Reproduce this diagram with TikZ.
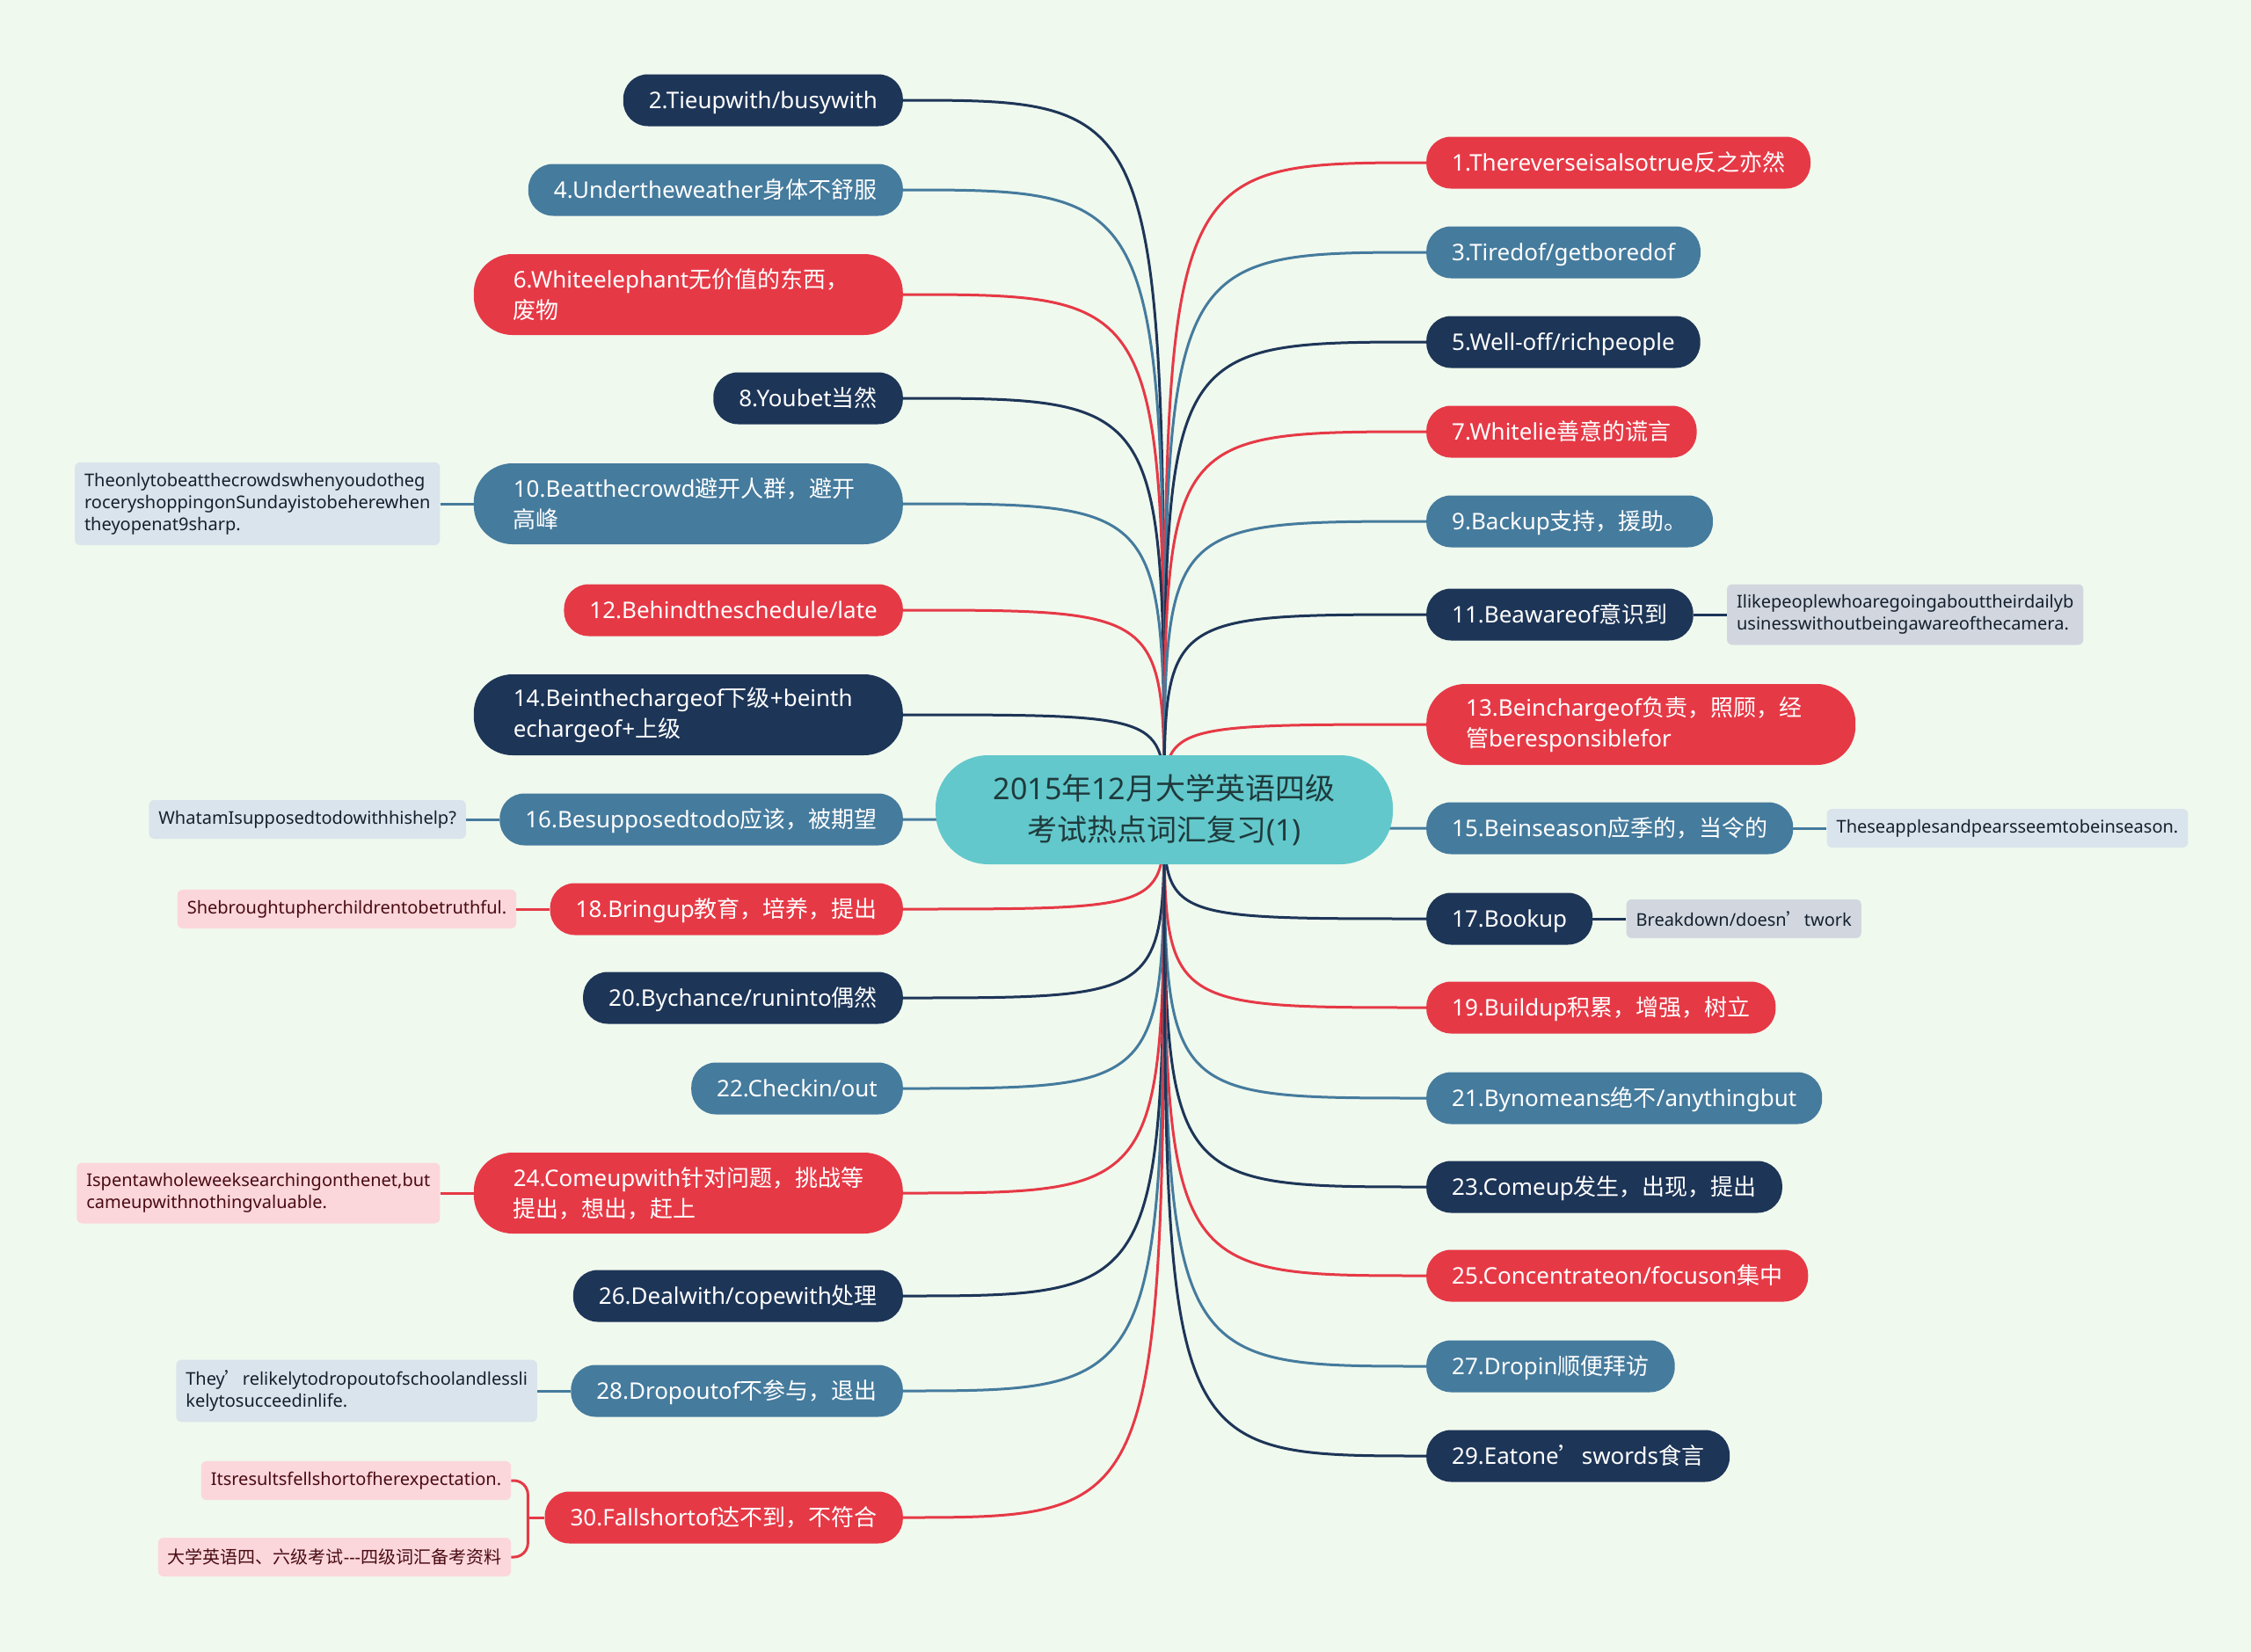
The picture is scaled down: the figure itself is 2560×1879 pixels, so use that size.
\documentclass[tikz,border=0pt]{standalone}
\usepackage{fontspec}
\setmainfont{Noto Sans}
\newfontfamily\cjkfont{Noto Sans CJK SC}
\newcommand\zh[1]{{\cjkfont #1}}
\usepackage{xcolor}
\usepackage{tikz}
\usetikzlibrary{positioning}
\definecolor{paper}{HTML}{F0F9EE}
\definecolor{crimson}{HTML}{E63946}
\definecolor{steel}{HTML}{457B9D}
\definecolor{navy}{HTML}{1D3557}
\definecolor{rootfill}{HTML}{62C8CB}
\definecolor{rootink}{HTML}{1F3A3C}
\definecolor{pinkbg}{HTML}{FBD7DC}
\definecolor{pinkink}{HTML}{4A0B12}
\definecolor{bluebg}{HTML}{DAE4EC}
\definecolor{greybg}{HTML}{D2D7DF}
\definecolor{noteink}{HTML}{14202E}
\pgfdeclarelayer{back}
\pgfsetlayers{back,main}
\hyphenpenalty=10000

\begin{document}
\begin{tikzpicture}[x=1pt, y=-1pt, node distance=38pt,
    root/.style={rounded corners=60pt, fill=rootfill, text=rootink, align=center, minimum width=520pt, minimum height=124pt, inner ysep=0pt, font=\fontsize{34pt}{47pt}\selectfont},
    topic/.style={rounded corners=28pt, inner xsep=29pt, inner ysep=0pt, minimum height=59pt, text height=22pt, text depth=3pt, text=white, font=\fontsize{26pt}{35pt}\selectfont},
    topic2/.style={rounded corners=44pt, inner xsep=45pt, inner ysep=10pt, minimum height=92pt, text width=398pt, align=left, text=white, font=\fontsize{26pt}{35pt}\selectfont},
    note/.style={rounded corners=6pt, inner xsep=11pt, inner ysep=12pt, minimum height=44pt, align=left, font=\fontsize{20pt}{25pt}\selectfont},
    pinknote/.style={note, fill=pinkbg, text=pinkink},
    bluenote/.style={note, fill=bluebg, text=noteink},
    greynote/.style={note, fill=greybg, text=noteink},
    conn/.style={line width=3pt}]

    \begin{pgfonlayer}{back}
      \fill[paper] (0,0) rectangle (2560,1879);
    \end{pgfonlayer}
    \useasboundingbox (0,0) rectangle (2560,1879);

    \node[root] (root) at (1324,921) {2015\zh{年}12\zh{月大学英语四级}\\\zh{考试热点词汇复习}(1)};

    % left branch
    \node[topic, fill=navy, anchor=east] (n2) at (1027,114) {2.Tieupwith/busywith};
    \node[topic, fill=steel, anchor=east] (n4) at (1027,216) {4.Undertheweather\zh{身体不舒服}};
    \node[topic2, fill=crimson, anchor=east] (n6) at (1027,335) {6.Whiteelephant\zh{无价值的东西，}\\\zh{废物}};
    \node[topic, fill=navy, anchor=east] (n8) at (1027,453) {8.Youbet\zh{当然}};
    \node[topic2, fill=steel, anchor=east] (n10) at (1027,573) {10.Beatthecrowd\zh{避开人群，避开}\\\zh{高峰}};
    \node[topic, fill=crimson, anchor=east] (n12) at (1027,694) {12.Behindtheschedule/late};
    \node[topic2, fill=navy, anchor=east] (n14) at (1027,813) {14.Beinthechargeof\zh{下级}+beinth\\echargeof+\zh{上级}};
    \node[topic, fill=steel, anchor=east] (n16) at (1027,932) {16.Besupposedtodo\zh{应该，被期望}};
    \node[topic, fill=crimson, anchor=east] (n18) at (1027,1034) {18.Bringup\zh{教育，培养，提出}};
    \node[topic, fill=navy, anchor=east] (n20) at (1027,1135) {20.Bychance/runinto\zh{偶然}};
    \node[topic, fill=steel, anchor=east] (n22) at (1027,1238) {22.Checkin/out};
    \node[topic2, fill=crimson, anchor=east] (n24) at (1027,1357) {24.Comeupwith\zh{针对问题，挑战等}\\\zh{提出，想出，赶上}};
    \node[topic, fill=navy, anchor=east] (n26) at (1027,1474) {26.Dealwith/copewith\zh{处理}};
    \node[topic, fill=steel, anchor=east] (n28) at (1027,1582) {28.Dropoutof\zh{不参与，退出}};
    \node[topic, fill=crimson, anchor=east] (n30) at (1027,1726) {30.Fallshortof\zh{达不到，不符合}};

    % right branch
    \node[topic, fill=crimson, anchor=west] (n1) at (1622,185) {1.Thereverseisalsotrue\zh{反之亦然}};
    \node[topic, fill=steel, anchor=west] (n3) at (1622,287) {3.Tiredof/getboredof};
    \node[topic, fill=navy, anchor=west] (n5) at (1622,389) {5.Well-off/richpeople};
    \node[topic, fill=crimson, anchor=west] (n7) at (1622,491) {7.Whitelie\zh{善意的谎言}};
    \node[topic, fill=steel, anchor=west] (n9) at (1622,593) {9.Backup\zh{支持，援助。}};
    \node[topic, fill=navy, anchor=west] (n11) at (1622,699) {11.Beawareof\zh{意识到}};
    \node[topic2, fill=crimson, anchor=west] (n13) at (1622,824) {13.Beinchargeof\zh{负责，照顾，经}\\\zh{管}beresponsiblefor};
    \node[topic, fill=steel, anchor=west] (n15) at (1622,942) {15.Beinseason\zh{应季的，当令的}};
    \node[topic, fill=navy, anchor=west] (n17) at (1622,1045) {17.Bookup};
    \node[topic, fill=crimson, anchor=west] (n19) at (1622,1146) {19.Buildup\zh{积累，增强，树立}};
    \node[topic, fill=steel, anchor=west] (n21) at (1622,1249) {21.Bynomeans\zh{绝不}/anythingbut};
    \node[topic, fill=navy, anchor=west] (n23) at (1622,1350) {23.Comeup\zh{发生，出现，提出}};
    \node[topic, fill=crimson, anchor=west] (n25) at (1622,1451) {25.Concentrateon/focuson\zh{集中}};
    \node[topic, fill=steel, anchor=west] (n27) at (1622,1554) {27.Dropin\zh{顺便拜访}};
    \node[topic, fill=navy, anchor=west] (n29) at (1622,1656) {29.Eatone\zh{’}swords\zh{食言}};

    % example notes
    \node[bluenote, left=of n10] (t10) {Theonlytobeatthecrowdswhenyoudotheg\\roceryshoppingonSundayistobeherewhen\\theyopenat9sharp.};
    \node[bluenote, left=of n16] (t16) {WhatamIsupposedtodowithhishelp?};
    \node[pinknote, left=of n18] (t18) {Shebroughtupherchildrentobetruthful.};
    \node[pinknote, left=of n24] (t24) {Ispentawholeweeksearchingonthenet,but\\cameupwithnothingvaluable.};
    \node[bluenote, left=of n28] (t28) {They\zh{’}relikelytodropoutofschoolandlessli\\kelytosucceedinlife.};
    \node[pinknote, left=of n30, yshift=42pt] (t30a) {Itsresultsfellshortofherexpectation.};
    \node[pinknote, left=of n30, yshift=-45pt] (t30b) {\zh{大学英语四、六级考试}-{}-{}-\zh{四级词汇备考资料}};
    \coordinate[left=19pt of n30] (b30);
    \node[greynote, right=of n11] (t11) {Ilikepeoplewhoaregoingabouttheirdailyb\\usinesswithoutbeingawareofthecamera.};
    \node[bluenote, right=of n15] (t15) {Theseapplesandpearsseemtobeinseason.};
    \node[greynote, right=of n17] (t17) {Breakdown/doesn\zh{’}twork};

    \begin{pgfonlayer}{back}
      \draw[conn, navy] (root.center) .. controls (root.center |- n2.east) .. (n2.east);
      \draw[conn, steel] (root.center) .. controls (root.center |- n4.east) .. (n4.east);
      \draw[conn, crimson] (root.center) .. controls (root.center |- n6.east) .. (n6.east);
      \draw[conn, navy] (root.center) .. controls (root.center |- n8.east) .. (n8.east);
      \draw[conn, steel] (root.center) .. controls (root.center |- n10.east) .. (n10.east);
      \draw[conn, crimson] (root.center) .. controls (root.center |- n12.east) .. (n12.east);
      \draw[conn, navy] (root.center) .. controls (root.center |- n14.east) .. (n14.east);
      \draw[conn, steel] (root.center) .. controls (root.center |- n16.east) .. (n16.east);
      \draw[conn, crimson] (root.center) .. controls (root.center |- n18.east) .. (n18.east);
      \draw[conn, navy] (root.center) .. controls (root.center |- n20.east) .. (n20.east);
      \draw[conn, steel] (root.center) .. controls (root.center |- n22.east) .. (n22.east);
      \draw[conn, crimson] (root.center) .. controls (root.center |- n24.east) .. (n24.east);
      \draw[conn, navy] (root.center) .. controls (root.center |- n26.east) .. (n26.east);
      \draw[conn, steel] (root.center) .. controls (root.center |- n28.east) .. (n28.east);
      \draw[conn, crimson] (root.center) .. controls (root.center |- n30.east) .. (n30.east);

      \draw[conn, crimson] (root.center) .. controls (root.center |- n1.west) .. (n1.west);
      \draw[conn, steel] (root.center) .. controls (root.center |- n3.west) .. (n3.west);
      \draw[conn, navy] (root.center) .. controls (root.center |- n5.west) .. (n5.west);
      \draw[conn, crimson] (root.center) .. controls (root.center |- n7.west) .. (n7.west);
      \draw[conn, steel] (root.center) .. controls (root.center |- n9.west) .. (n9.west);
      \draw[conn, navy] (root.center) .. controls (root.center |- n11.west) .. (n11.west);
      \draw[conn, crimson] (root.center) .. controls (root.center |- n13.west) .. (n13.west);
      \draw[conn, steel] (root.center) .. controls (root.center |- n15.west) .. (n15.west);
      \draw[conn, navy] (root.center) .. controls (root.center |- n17.west) .. (n17.west);
      \draw[conn, crimson] (root.center) .. controls (root.center |- n19.west) .. (n19.west);
      \draw[conn, steel] (root.center) .. controls (root.center |- n21.west) .. (n21.west);
      \draw[conn, navy] (root.center) .. controls (root.center |- n23.west) .. (n23.west);
      \draw[conn, crimson] (root.center) .. controls (root.center |- n25.west) .. (n25.west);
      \draw[conn, steel] (root.center) .. controls (root.center |- n27.west) .. (n27.west);
      \draw[conn, navy] (root.center) .. controls (root.center |- n29.west) .. (n29.west);
    \end{pgfonlayer}

    \draw[conn, steel] (t10) -- (n10);
    \draw[conn, steel] (t16) -- (n16);
    \draw[conn, crimson] (t18) -- (n18);
    \draw[conn, crimson] (t24) -- (n24);
    \draw[conn, steel] (t28) -- (n28);
    \draw[conn, crimson] (n30) -- (b30);
    \draw[conn, crimson, rounded corners=16pt] (b30) |- (t30a);
    \draw[conn, crimson, rounded corners=16pt] (b30) |- (t30b);
    \draw[conn, navy] (n11) -- (t11);
    \draw[conn, steel] (n15) -- (t15);
    \draw[conn, navy] (n17) -- (t17);
  \end{tikzpicture}
\end{document}
